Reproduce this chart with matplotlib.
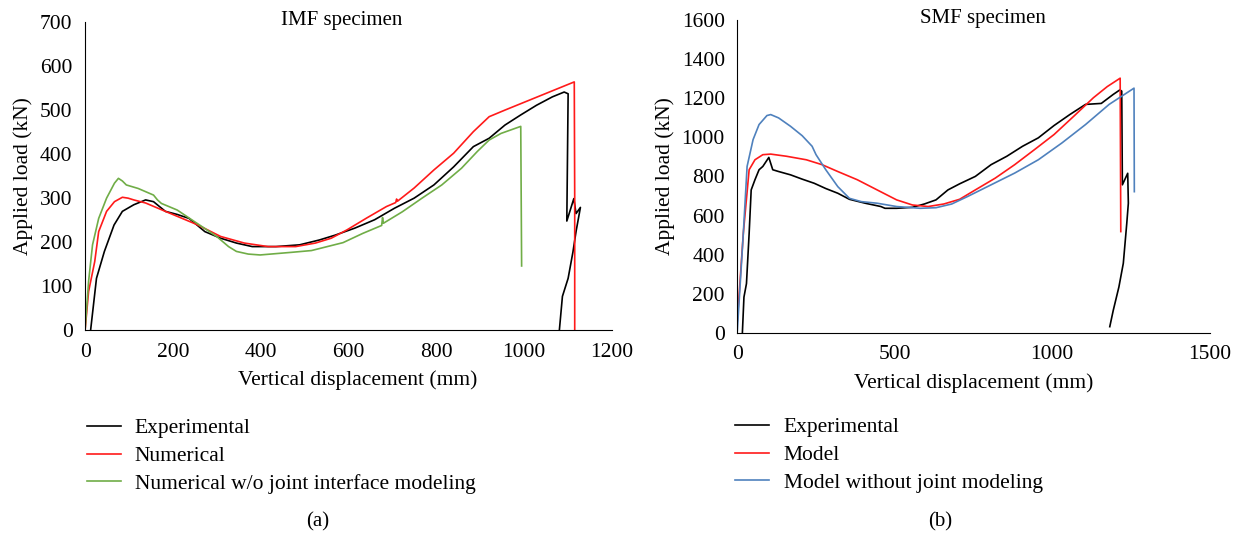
import numpy as np
import matplotlib.pyplot as plt
from matplotlib.lines import Line2D

plt.rcParams['font.family'] = ['Liberation Serif', 'DejaVu Serif']
plt.rcParams['font.size'] = 15.5

# IMF specimen (a)
imf_exp_x = [12.6, 26, 44, 66, 85, 111, 138, 156, 183, 210, 237, 273, 309, 345, 381, 435, 489, 534,
             570, 615, 660, 705, 750, 795, 840, 885, 921, 957, 993, 1029, 1065, 1092, 1101,
             1098, 1114, 1119, 1129, 1119, 1112, 1101, 1088, 1081]
imf_exp_y = [0, 118, 179, 239, 270, 285, 296, 292, 270, 263, 254, 224, 209, 198, 190, 190, 194, 205,
             216, 232, 251, 277, 300, 330, 371, 417, 436, 466, 489, 511, 530, 541, 537,
             248, 299, 265, 279, 224, 178, 118, 77, 0]

imf_num_x = [0, 8, 22, 31, 49, 67, 85, 98, 111, 138, 183, 255, 309, 363, 417, 480, 525, 561, 597,
             642, 687, 708, 710, 712, 750, 795, 840, 885, 921, 957, 1115, 1116, 1116]
imf_num_y = [0, 88, 156, 224, 270, 292, 302, 300, 296, 289, 270, 240, 213, 198, 190, 190, 198, 209, 228,
             255, 281, 290, 298, 293, 323, 364, 402, 451, 485, 500, 564, 300, 0]

imf_now_x = [0, 8, 17, 31, 49, 67, 76, 85, 94, 121, 156, 165, 174, 210, 255, 300, 327, 345, 372, 399,
             435, 471, 516, 552, 588, 633, 676, 678, 680, 723, 768, 813, 858, 894, 921, 948, 993, 995]
imf_now_y = [0, 111, 194, 254, 300, 334, 345, 339, 330, 322, 307, 296, 288, 273, 243, 213, 190, 179, 173, 171,
             174, 177, 181, 190, 199, 220, 238, 256, 243, 269, 300, 330, 368, 406, 432, 447, 463, 146]

# SMF specimen (b)
smf_exp_x = [16, 21, 29, 37.5, 44, 56, 69, 81, 100, 112.5, 131, 169, 206, 244, 281, 319, 356, 406, 456,
             469, 506, 556, 594, 631, 669, 706, 756, 806, 856, 906, 956, 1006, 1056, 1106, 1156, 1194,
             1215, 1221, 1223, 1240, 1242, 1237, 1226, 1212, 1194, 1183]
smf_exp_y = [0, 183, 252, 509, 731, 783, 834, 851, 897, 834, 825, 808, 786, 765, 738, 714, 683, 663, 646,
             637, 637, 642, 659, 680, 731, 762, 800, 860, 903, 954, 997, 1060, 1116, 1168, 1173, 1219,
             1242, 1236, 757, 816, 663, 560, 356, 235, 115, 32]

smf_mod_x = [0, 19, 37.5, 56, 81, 106, 156, 219, 269, 319, 381, 444, 506, 556, 606, 656, 706, 756,
             819, 881, 944, 1006, 1069, 1131, 1175, 1216, 1218]
smf_mod_y = [63, 509, 834, 885, 911, 914, 903, 885, 860, 825, 783, 731, 680, 654, 646, 659, 683, 731,
             791, 860, 937, 1014, 1108, 1202, 1259, 1302, 518]

smf_nj_x = [0, 19, 31, 50, 69, 94, 106, 131, 169, 206, 237.5, 250, 281, 319, 356, 394, 444, 506, 581,
            631, 681, 731, 806, 881, 956, 1031, 1106, 1181, 1260, 1261]
smf_nj_y = [12, 509, 851, 988, 1065, 1111, 1116, 1099, 1056, 1008, 954, 911, 834, 748, 688, 671, 663, 646, 637,
            640, 659, 697, 757, 817, 885, 971, 1065, 1168, 1251, 722]

black = '#000000'
red = '#ff1a1a'
green = '#70ad47'
blue = '#4f81bd'

fig = plt.figure(figsize=(12.33, 5.37), dpi=100)
ax1 = fig.add_axes([0.069, 0.385, 0.427, 0.574])
ax2 = fig.add_axes([0.598, 0.380, 0.383, 0.583])

lw = 1.2
ax1.plot(imf_exp_x, imf_exp_y, color=black, lw=lw)
ax1.plot(imf_num_x, imf_num_y, color=red, lw=lw)
ax1.plot(imf_now_x, imf_now_y, color=green, lw=lw)
ax1.set_xlim(0, 1200)
ax1.set_ylim(0, 700)
ax1.set_xticks(np.arange(0, 1201, 200))
ax1.set_yticks(np.arange(0, 701, 100))
ax1.set_xlabel('Vertical displacement (mm)', fontsize=15.5, labelpad=6)
ax1.xaxis.label.set_x(0.518)
ax1.set_ylabel('Applied load (kN)', fontsize=15.5, labelpad=5)
ax1.text(0.488, 1.005, 'IMF specimen', transform=ax1.transAxes, ha='center', va='center', fontsize=15)

ax2.plot(smf_exp_x, smf_exp_y, color=black, lw=lw)
ax2.plot(smf_mod_x, smf_mod_y, color=red, lw=lw)
ax2.plot(smf_nj_x, smf_nj_y, color=blue, lw=lw)
ax2.set_xlim(0, 1500)
ax2.set_ylim(0, 1600)
ax2.set_xticks(np.arange(0, 1501, 500))
ax2.set_yticks(np.arange(0, 1601, 200))
ax2.set_xlabel('Vertical displacement (mm)', fontsize=15.5, labelpad=6)
ax2.set_ylabel('Applied load (kN)', fontsize=15.5, labelpad=5)
ax2.text(0.52, 1.005, 'SMF specimen', transform=ax2.transAxes, ha='center', va='center', fontsize=15)

for ax in (ax1, ax2):
    ax.spines['top'].set_visible(False)
    ax.spines['right'].set_visible(False)
    ax.tick_params(length=0, pad=9, labelsize=15.5)

h1 = [Line2D([], [], color=c, lw=lw) for c in (black, red, green)]
fig.legend(h1, ['Experimental', 'Numerical', 'Numerical w/o joint interface modeling'],
           loc='upper left', bbox_to_anchor=(0.0706, 0.221), frameon=False, fontsize=15.5,
           handlelength=1.6, handletextpad=0.62, labelspacing=0.36, borderpad=0, borderaxespad=0)
h2 = [Line2D([], [], color=c, lw=lw) for c in (black, red, blue)]
fig.legend(h2, ['Experimental', 'Model', 'Model without joint modeling'],
           loc='upper left', bbox_to_anchor=(0.596, 0.223), frameon=False, fontsize=15.5,
           handlelength=1.6, handletextpad=0.67, labelspacing=0.36, borderpad=0, borderaxespad=0)

fig.text(318 / 1233, 1 - 522 / 537, '(a)', ha='center', va='center', fontsize=15)
fig.text(940 / 1233, 1 - 522 / 537, '(b)', ha='center', va='center', fontsize=15)

fig.savefig('out.png', dpi=100)
